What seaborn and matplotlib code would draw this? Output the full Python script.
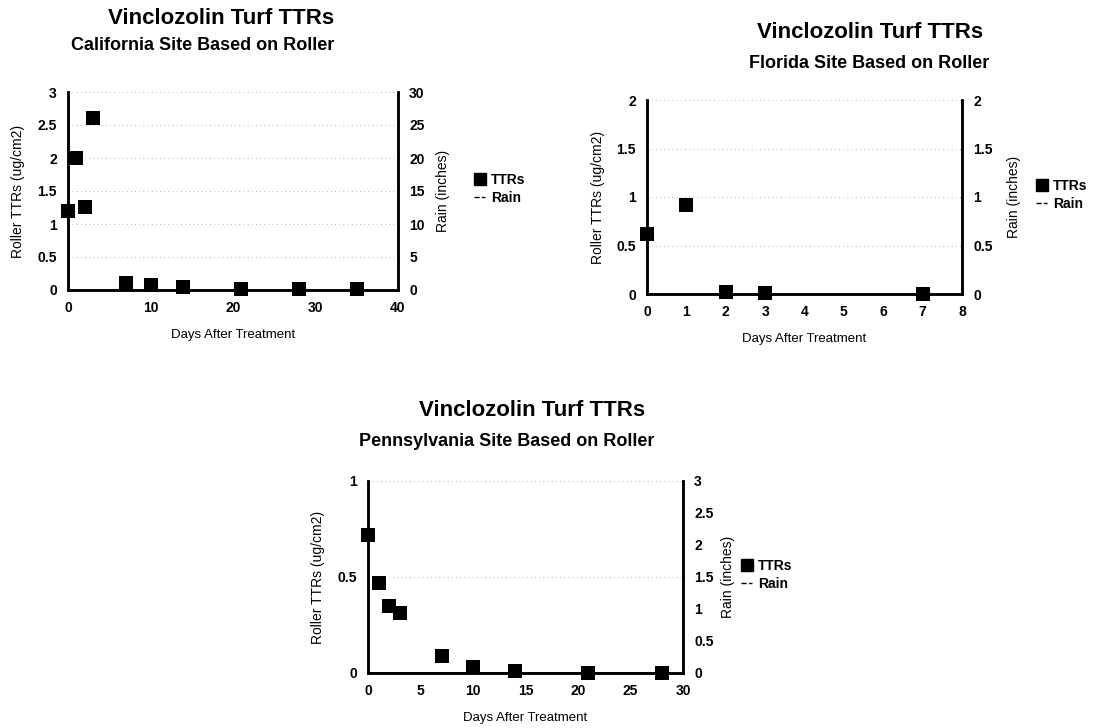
import pandas as pd
import matplotlib.pyplot as plt
import seaborn as sns
from matplotlib.lines import Line2D

# California
ca_days = [0, 1, 2, 3, 7, 10, 14, 21, 28, 35]
ca_ttr = [1.2, 2.0, 1.25, 2.6, 0.1, 0.07, 0.05, 0.02, 0.01, 0.01]
ca_rain = [0, 0, 0, 0, 0, 0, 0, 0, 0, 0]

# Florida
fl_days = [0, 1, 2, 3, 7]
fl_ttr = [0.62, 0.92, 0.02, 0.01, 0.0]
fl_rain = [0, 0, 0, 0, 0]

# Pennsylvania
pa_days = [0, 1, 2, 3, 7, 10, 14, 21, 28]
pa_ttr = [0.72, 0.47, 0.35, 0.31, 0.09, 0.03, 0.01, 0.0, 0.0]
pa_rain = [0, 0, 0, 0, 0, 0, 0, 0, 0]

W, H = 1096, 728


def px_axes(fig, left, right, top, bottom):
    return fig.add_axes([left / W, 1 - bottom / H, (right - left) / W, (bottom - top) / H])


def draw_panel(fig, box, days, ttr, rain, xmax, xstep, ymax, ystep, rmax, rstep,
               title_pos, sub_pos, subtitle, ylab_x, rlab_x, leg_pos):
    ax = px_axes(fig, *box)
    df = pd.DataFrame({'day': days, 'ttr': ttr, 'rain': rain})
    sns.scatterplot(x='day', y='ttr', data=df, ax=ax, marker='s', s=110,
                    color='black', edgecolor='black', linewidth=0, zorder=3,
                    clip_on=False, legend=False)
    ax.set_xlim(0, xmax)
    ax.set_ylim(0, ymax)
    ax.set_xticks([i * xstep for i in range(int(round(xmax / xstep)) + 1)])
    yt = [round(i * ystep, 2) for i in range(int(round(ymax / ystep)) + 1)]
    ax.set_yticks(yt)
    ax.set_yticklabels([('%g' % v) for v in yt])
    ax.grid(axis='y', linestyle=(0, (1, 4)), color='#999999', linewidth=0.6)
    ax.set_xlabel('')
    ax.set_ylabel('')

    ax2 = ax.twinx()
    sns.lineplot(x='day', y='rain', data=df, ax=ax2, color='black',
                 linestyle='--', linewidth=1.2, legend=False)
    ax2.set_ylim(0, rmax)
    rt = [round(i * rstep, 2) for i in range(int(round(rmax / rstep)) + 1)]
    ax2.set_yticks(rt)
    ax2.set_yticklabels([('%g' % v) for v in rt])
    ax2.set_ylabel('')

    for a in (ax, ax2):
        for side in ('left', 'right', 'bottom'):
            a.spines[side].set_visible(True)
            a.spines[side].set_linewidth(1.8)
            a.spines[side].set_color('black')
        a.spines['top'].set_visible(False)
        a.tick_params(length=0, pad=8, labelsize=10, labelcolor='black')
        for lab in a.get_xticklabels() + a.get_yticklabels():
            lab.set_fontweight('bold')

    cx = (box[0] + box[1]) / 2
    fig.text(cx / W, 1 - (box[3] + 45) / H, 'Days After Treatment',
             ha='center', va='center', fontsize=9.5, color='black')
    midy = 1 - ((box[2] + box[3]) / 2) / H
    fig.text(ylab_x / W, midy, 'Roller TTRs (ug/cm2)', rotation=90,
             ha='center', va='center', fontsize=10, color='black')
    fig.text(rlab_x / W, midy, 'Rain (inches)', rotation=90,
             ha='center', va='center', fontsize=10, color='black')

    fig.text(title_pos[0] / W, 1 - title_pos[1] / H, 'Vinclozolin Turf TTRs',
             ha='center', va='center', fontsize=16, fontweight='bold', color='black')
    fig.text(sub_pos[0] / W, 1 - sub_pos[1] / H, subtitle,
             ha='center', va='center', fontsize=13, fontweight='bold', color='black')

    handles = [Line2D([], [], marker='s', linestyle='none', color='black', markersize=9),
               Line2D([], [], linestyle='--', color='black', linewidth=1)]
    leg = fig.legend(handles, ['TTRs', 'Rain'], loc='center left',
                     bbox_to_anchor=(leg_pos[0] / W, 1 - leg_pos[1] / H),
                     frameon=False, handlelength=0.8, handletextpad=0.4,
                     labelspacing=0.3, borderaxespad=0, borderpad=0,
                     prop={'weight': 'bold', 'size': 10})
    for t in leg.get_texts():
        t.set_color('black')


sns.set_style('white')
plt.rcParams['font.family'] = ['Liberation Sans', 'DejaVu Sans']
plt.rcParams['text.color'] = 'black'

fig = plt.figure(figsize=(10.96, 7.28), dpi=100)

draw_panel(fig, (68, 398, 92, 290), ca_days, ca_ttr, ca_rain,
           40, 10, 3, 0.5, 30, 5,
           (221, 18), (203, 45), 'California Site Based on Roller',
           18, 443, (474, 189))

draw_panel(fig, (647, 962, 100, 294), fl_days, fl_ttr, fl_rain,
           8, 1, 2, 0.5, 2, 0.5,
           (870, 32), (869, 63), 'Florida Site Based on Roller',
           598, 1014, (1036, 195))

draw_panel(fig, (368, 683, 481, 673), pa_days, pa_ttr, pa_rain,
           30, 5, 1, 0.5, 3, 0.5,
           (532, 410), (507, 442), 'Pennsylvania Site Based on Roller',
           318, 728, (741, 575))

fig.savefig('out.png', dpi=100)
